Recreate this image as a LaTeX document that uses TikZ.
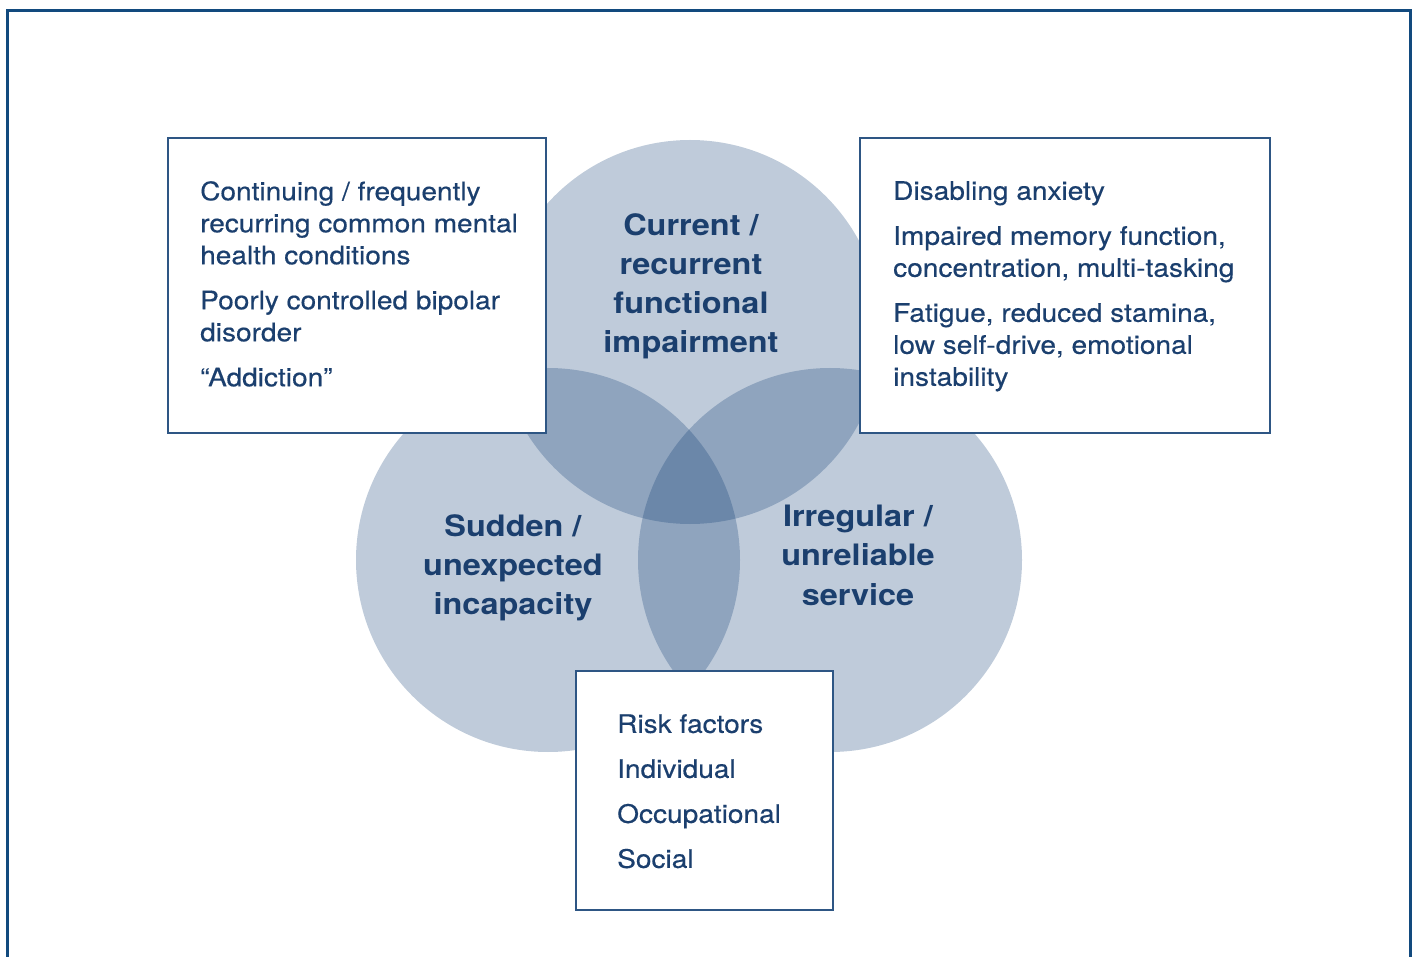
\documentclass[tikz,border=0pt]{standalone}
\usepackage{fontspec}
\setmainfont{TeX Gyre Heros}[FakeStretch=1.1, UprightFeatures={FakeBold=0.4}]
\usetikzlibrary{positioning}
\definecolor{inkBlue}{HTML}{1B3F6E}
\definecolor{frameBlue}{HTML}{124A7E}
\definecolor{boxBlue}{HTML}{2E5684}
\definecolor{discBlue}{HTML}{00306B}

\tikzset{
  disc/.style={fill=discBlue, fill opacity=0.25},
  infobox/.style={draw=boxBlue, line width=1.5pt, fill=white},
  boxtext/.style={anchor=north west, inner sep=0pt, align=left, text=inkBlue,
    font=\fontsize{25.5}{32}\selectfont},
  disclabel/.style={anchor=north, inner sep=0pt, align=center, text=inkBlue,
    font=\bfseries\fontsize{29.5}{39.2}\selectfont},
}

\begin{document}
\begin{tikzpicture}[x=1pt, y=-1pt]
  \useasboundingbox (0,0) rectangle (1417,957);
  \clip (0,0) rectangle (1417,957);

  % outer frame (open at the bottom)
  \draw[frameBlue, line width=3pt] (7.5,980) -- (7.5,11) -- (1410.5,11) -- (1410.5,980);

  % three overlapping circles
  \fill[disc] (690,332) circle (192);
  \fill[disc] (548,560) circle (192);
  \fill[disc] (830,560) circle (192);

  % circle labels
  \node[disclabel] (current) at (691,213) {Current /\\recurrent\\functional\\impairment};
  \node[disclabel] (sudden) at (513,514) {Sudden /\\unexpected\\incapacity};
  \node[disclabel] (irregular) at (858,505) {Irregular /\\unreliable\\service};

  % side boxes
  \draw[infobox] (168,138) rectangle (546,433);
  \node[boxtext] (conditions) at (200,181)
    {Continuing / frequently\\recurring common mental\\health conditions\\[13pt]
     Poorly controlled bipolar\\disorder\\[13pt]
     “Addiction”};

  \draw[infobox] (860,138) rectangle (1270,433);
  \node[boxtext] (symptoms) at (893,181)
    {Disabling anxiety\\[13pt]
     Impaired memory function,\\concentration, multi-tasking\\[13pt]
     Fatigue, reduced stamina,\\low self-drive, emotional\\instability};

  \draw[infobox] (576,671) rectangle (833,910);
  \node[boxtext] (risks) at (617,714)
    {Risk factors\\[13pt]Individual\\[13pt]Occupational\\[13pt]Social};
\end{tikzpicture}
\end{document}
